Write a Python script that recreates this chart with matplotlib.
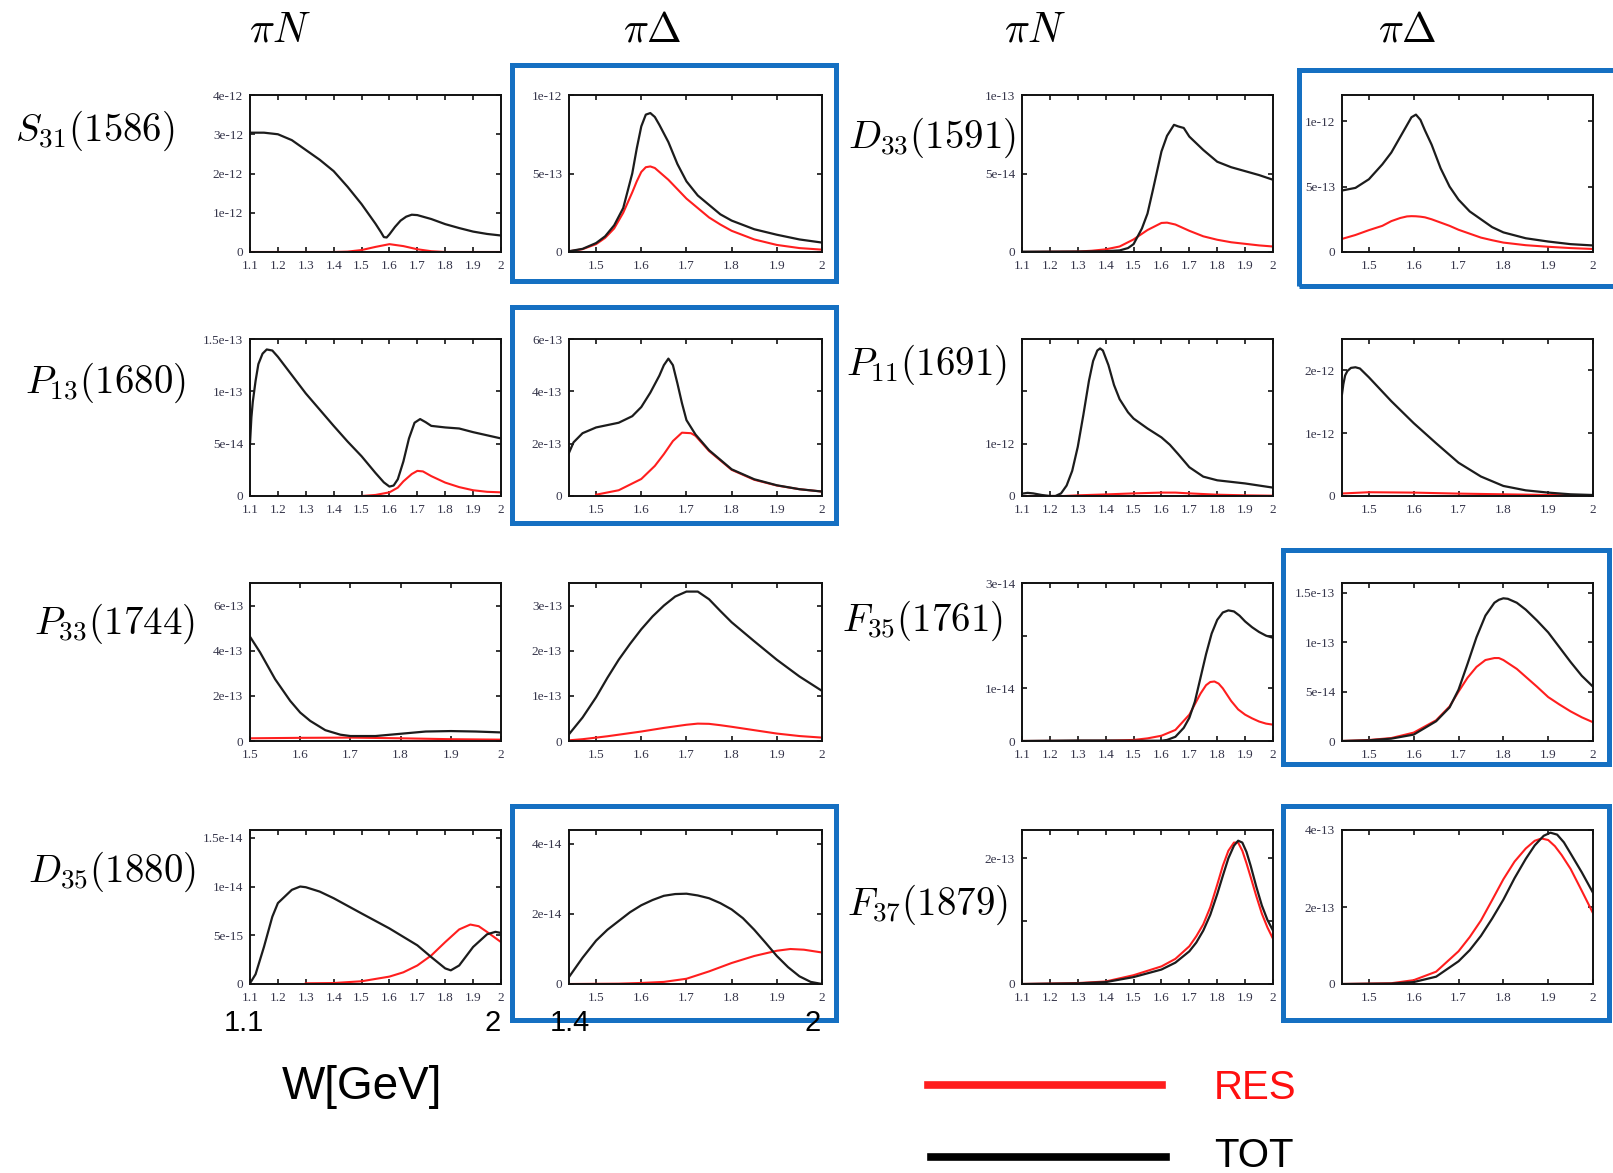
import numpy as np
import matplotlib.pyplot as plt
from matplotlib.patches import Rectangle
from matplotlib.lines import Line2D

plt.rcParams['mathtext.fontset'] = 'cm'

W_PX, H_PX = 1613, 1173

# ---- S31(1586) ----
s31_pin_w = [1.1, 1.15, 1.2, 1.25, 1.3, 1.35, 1.4, 1.45, 1.5, 1.53, 1.55, 1.57, 1.58, 1.59, 1.6, 1.62, 1.64, 1.66, 1.68, 1.7, 1.75, 1.8, 1.85, 1.9, 1.95, 2.0]
s31_pin_tot = [3.04, 3.04, 3.0, 2.85, 2.6, 2.35, 2.06, 1.66, 1.22, 0.92, 0.72, 0.5, 0.38, 0.37, 0.45, 0.64, 0.8, 0.9, 0.95, 0.94, 0.84, 0.71, 0.61, 0.52, 0.46, 0.42]
s31_pin_res_w = [1.1, 1.4, 1.45, 1.5, 1.55, 1.6, 1.65, 1.7, 1.75, 1.8, 2.0]
s31_pin_res = [0, 0, 0.01, 0.05, 0.13, 0.2, 0.15, 0.07, 0.02, 0.0, 0]

s31_pid_w = [1.44, 1.47, 1.5, 1.52, 1.54, 1.56, 1.58, 1.59, 1.6, 1.61, 1.62, 1.63, 1.64, 1.66, 1.68, 1.7, 1.725, 1.75, 1.775, 1.8, 1.85, 1.9, 1.95, 2.0]
s31_pid_tot = [0.005, 0.02, 0.057, 0.1, 0.17, 0.28, 0.5, 0.66, 0.8, 0.875, 0.885, 0.86, 0.81, 0.7, 0.56, 0.45, 0.36, 0.3, 0.24, 0.2, 0.145, 0.11, 0.08, 0.06]
s31_pid_res = [0.004, 0.018, 0.05, 0.09, 0.15, 0.25, 0.38, 0.45, 0.51, 0.54, 0.545, 0.535, 0.51, 0.46, 0.4, 0.34, 0.28, 0.22, 0.175, 0.135, 0.08, 0.045, 0.025, 0.015]

# ---- D33(1591) ----
d33_pin_w = [1.1, 1.3, 1.4, 1.45, 1.48, 1.5, 1.53, 1.55, 1.57, 1.6, 1.62, 1.645, 1.66, 1.68, 1.7, 1.75, 1.8, 1.85, 1.9, 1.95, 2.0]
d33_pin_tot = [0.002, 0.003, 0.005, 0.01, 0.025, 0.05, 0.15, 0.245, 0.4, 0.64, 0.74, 0.81, 0.8, 0.79, 0.735, 0.65, 0.575, 0.54, 0.515, 0.49, 0.46]
d33_pin_res_w = [1.1, 1.3, 1.35, 1.4, 1.45, 1.5, 1.55, 1.6, 1.62, 1.65, 1.7, 1.75, 1.8, 1.85, 1.9, 1.95, 2.0]
d33_pin_res = [0.0, 0.003, 0.008, 0.017, 0.035, 0.08, 0.14, 0.185, 0.187, 0.175, 0.135, 0.1, 0.078, 0.062, 0.052, 0.042, 0.035]

d33_pid_w = [1.44, 1.47, 1.5, 1.53, 1.55, 1.57, 1.585, 1.595, 1.605, 1.615, 1.625, 1.64, 1.66, 1.68, 1.7, 1.725, 1.75, 1.775, 1.8, 1.85, 1.9, 1.95, 2.0]
d33_pid_tot = [0.47, 0.49, 0.556, 0.67, 0.76, 0.88, 0.97, 1.03, 1.05, 1.01, 0.93, 0.82, 0.64, 0.5, 0.4, 0.31, 0.25, 0.19, 0.15, 0.105, 0.08, 0.06, 0.05]
d33_pid_res = [0.1, 0.13, 0.167, 0.2, 0.236, 0.26, 0.272, 0.274, 0.273, 0.27, 0.265, 0.25, 0.225, 0.2, 0.17, 0.14, 0.11, 0.09, 0.072, 0.052, 0.04, 0.03, 0.023]

# ---- P13(1680) ----
p13_pin_w = [1.1, 1.105, 1.11, 1.12, 1.13, 1.145, 1.16, 1.18, 1.2, 1.25, 1.3, 1.35, 1.4, 1.45, 1.5, 1.55, 1.58, 1.6, 1.615, 1.63, 1.65, 1.67, 1.69, 1.71, 1.73, 1.75, 1.8, 1.85, 1.9, 1.95, 2.0]
p13_pin_tot = [0.5, 0.75, 0.9, 1.1, 1.26, 1.36, 1.40, 1.39, 1.33, 1.155, 0.98, 0.825, 0.67, 0.52, 0.38, 0.22, 0.13, 0.09, 0.1, 0.16, 0.33, 0.55, 0.7, 0.735, 0.705, 0.67, 0.655, 0.645, 0.61, 0.58, 0.55]
p13_pin_res_w = [1.5, 1.55, 1.6, 1.63, 1.65, 1.68, 1.7, 1.72, 1.75, 1.8, 1.85, 1.9, 1.95, 2.0]
p13_pin_res = [0.0, 0.01, 0.035, 0.08, 0.14, 0.21, 0.24, 0.235, 0.19, 0.128, 0.085, 0.055, 0.04, 0.035]

p13_pid_w = [1.44, 1.45, 1.47, 1.5, 1.55, 1.58, 1.6, 1.62, 1.64, 1.65, 1.66, 1.67, 1.68, 1.69, 1.7, 1.72, 1.75, 1.8, 1.85, 1.9, 1.95, 2.0]
p13_pid_tot = [1.65, 2.05, 2.4, 2.62, 2.8, 3.05, 3.4, 3.95, 4.6, 5.0, 5.25, 5.0, 4.3, 3.55, 2.9, 2.35, 1.75, 1.02, 0.64, 0.41, 0.26, 0.17]
p13_pid_res_w = [1.5, 1.55, 1.6, 1.63, 1.65, 1.67, 1.69, 1.71, 1.72, 1.75, 1.8, 1.85, 1.9, 1.95, 2.0]
p13_pid_res = [0.05, 0.22, 0.65, 1.15, 1.6, 2.1, 2.42, 2.4, 2.3, 1.72, 1.0, 0.62, 0.4, 0.26, 0.17]

# ---- P11(1691) ----
p11_pin_w = [1.1, 1.12, 1.14, 1.17, 1.2, 1.22, 1.24, 1.26, 1.28, 1.3, 1.32, 1.34, 1.355, 1.37, 1.38, 1.39, 1.41, 1.43, 1.45, 1.48, 1.5, 1.55, 1.6, 1.63, 1.66, 1.7, 1.75, 1.8, 1.85, 1.9, 1.95, 2.0]
p11_pin_tot = [0.045, 0.06, 0.05, 0.02, 0.0, 0.0, 0.05, 0.2, 0.48, 0.94, 1.55, 2.2, 2.58, 2.78, 2.82, 2.78, 2.5, 2.12, 1.85, 1.6, 1.48, 1.29, 1.12, 0.98, 0.8, 0.55, 0.37, 0.3, 0.27, 0.24, 0.2, 0.16]
p11_pin_res_w = [1.1, 1.25, 1.3, 1.4, 1.5, 1.6, 1.65, 1.7, 1.8, 1.9, 2.0]
p11_pin_res = [0, 0.0, 0.013, 0.03, 0.05, 0.065, 0.065, 0.05, 0.025, 0.013, 0.006]

p11_pid_w = [1.44, 1.443, 1.447, 1.452, 1.46, 1.47, 1.48, 1.5, 1.55, 1.6, 1.65, 1.7, 1.75, 1.8, 1.85, 1.9, 1.95, 2.0]
p11_pid_tot = [1.62, 1.78, 1.92, 1.99, 2.04, 2.05, 2.03, 1.89, 1.51, 1.16, 0.84, 0.53, 0.31, 0.16, 0.09, 0.054, 0.027, 0.016]
p11_pid_res_w = [1.44, 1.5, 1.6, 1.7, 1.8, 1.9, 2.0]
p11_pid_res = [0.04, 0.06, 0.054, 0.038, 0.027, 0.016, 0.01]

# ---- P33(1744) ----
p33_pin_w = [1.5, 1.52, 1.55, 1.58, 1.6, 1.62, 1.65, 1.68, 1.7, 1.75, 1.8, 1.85, 1.9, 1.95, 2.0]
p33_pin_tot = [4.62, 3.93, 2.74, 1.78, 1.26, 0.89, 0.48, 0.28, 0.22, 0.22, 0.32, 0.42, 0.44, 0.42, 0.38]
p33_pin_res_w = [1.5, 1.6, 1.7, 1.8, 1.9, 2.0]
p33_pin_res = [0.12, 0.14, 0.15, 0.12, 0.08, 0.06]

p33_pid_w = [1.44, 1.47, 1.5, 1.525, 1.55, 1.575, 1.6, 1.625, 1.65, 1.675, 1.7, 1.725, 1.75, 1.775, 1.8, 1.85, 1.9, 1.95, 2.0]
p33_pid_tot = [0.15, 0.52, 0.97, 1.4, 1.8, 2.15, 2.475, 2.76, 3.0, 3.2, 3.31, 3.31, 3.14, 2.88, 2.63, 2.21, 1.8, 1.43, 1.11]
p33_pid_res = [0.015, 0.04, 0.075, 0.105, 0.14, 0.175, 0.21, 0.25, 0.29, 0.325, 0.36, 0.385, 0.38, 0.35, 0.315, 0.24, 0.165, 0.11, 0.075]

# ---- F35(1761) ----
f35_pin_w = [1.1, 1.3, 1.4, 1.5, 1.6, 1.62, 1.65, 1.68, 1.7, 1.72, 1.74, 1.76, 1.78, 1.8, 1.82, 1.84, 1.86, 1.88, 1.9, 1.925, 1.95, 1.975, 2.0]
f35_pin_tot = [0.0, 0.01, 0.01, 0.005, 0.005, 0.02, 0.08, 0.25, 0.44, 0.75, 1.2, 1.65, 2.04, 2.3, 2.44, 2.48, 2.46, 2.38, 2.27, 2.16, 2.07, 2.0, 1.96]
f35_pin_res_w = [1.1, 1.4, 1.5, 1.55, 1.6, 1.65, 1.7, 1.72, 1.74, 1.76, 1.775, 1.79, 1.805, 1.82, 1.85, 1.875, 1.9, 1.925, 1.95, 1.975, 2.0]
f35_pin_res = [0, 0.005, 0.02, 0.05, 0.1, 0.21, 0.5, 0.7, 0.9, 1.06, 1.12, 1.13, 1.09, 1.0, 0.76, 0.6, 0.5, 0.43, 0.37, 0.33, 0.31]

f35_pid_w = [1.44, 1.5, 1.55, 1.6, 1.65, 1.68, 1.7, 1.72, 1.74, 1.76, 1.78, 1.79, 1.8, 1.81, 1.83, 1.85, 1.875, 1.9, 1.925, 1.95, 1.975, 2.0]
f35_pid_tot = [0.0, 0.007, 0.024, 0.065, 0.2, 0.34, 0.52, 0.78, 1.05, 1.27, 1.4, 1.43, 1.445, 1.44, 1.4, 1.33, 1.22, 1.1, 0.95, 0.8, 0.66, 0.55]
f35_pid_res = [0.0, 0.01, 0.03, 0.085, 0.21, 0.35, 0.5, 0.64, 0.75, 0.82, 0.84, 0.84, 0.82, 0.79, 0.73, 0.65, 0.55, 0.445, 0.37, 0.3, 0.24, 0.19]

# ---- D35(1880) ----
d35_pin_w = [1.1, 1.12, 1.15, 1.18, 1.2, 1.25, 1.28, 1.3, 1.35, 1.4, 1.5, 1.6, 1.7, 1.75, 1.8, 1.82, 1.85, 1.9, 1.95, 1.98, 2.0]
d35_pin_tot = [0.007, 0.1, 0.38, 0.69, 0.83, 0.966, 1.0, 0.993, 0.948, 0.88, 0.724, 0.57, 0.397, 0.276, 0.16, 0.14, 0.19, 0.38, 0.51, 0.535, 0.524]
d35_pin_res_w = [1.3, 1.4, 1.5, 1.6, 1.65, 1.7, 1.75, 1.8, 1.85, 1.89, 1.92, 1.95, 2.0]
d35_pin_res = [0.007, 0.01, 0.028, 0.076, 0.12, 0.19, 0.293, 0.43, 0.56, 0.61, 0.593, 0.534, 0.43]

d35_pid_w = [1.44, 1.47, 1.5, 1.525, 1.55, 1.575, 1.6, 1.625, 1.65, 1.675, 1.7, 1.725, 1.75, 1.775, 1.8, 1.825, 1.85, 1.875, 1.9, 1.925, 1.95, 1.975, 2.0]
d35_pid_tot = [0.2, 0.75, 1.24, 1.55, 1.8, 2.05, 2.25, 2.4, 2.52, 2.57, 2.58, 2.53, 2.45, 2.31, 2.13, 1.88, 1.55, 1.18, 0.8, 0.48, 0.22, 0.06, 0.0]
d35_pid_res_w = [1.44, 1.55, 1.6, 1.65, 1.7, 1.75, 1.8, 1.85, 1.9, 1.93, 1.96, 2.0]
d35_pid_res = [0.0, 0.01, 0.03, 0.06, 0.15, 0.36, 0.6, 0.8, 0.95, 1.0, 0.98, 0.9]

# ---- F37(1879) ----
f37_pin_w = [1.1, 1.3, 1.4, 1.5, 1.6, 1.65, 1.7, 1.725, 1.75, 1.775, 1.8, 1.82, 1.84, 1.86, 1.875, 1.89, 1.905, 1.92, 1.94, 1.96, 1.98, 2.0]
f37_pin_tot = [0.0, 0.01, 0.03, 0.11, 0.23, 0.34, 0.52, 0.66, 0.85, 1.1, 1.43, 1.72, 2.0, 2.2, 2.28, 2.25, 2.1, 1.88, 1.55, 1.25, 1.02, 0.85]
f37_pin_res = [0.0, 0.015, 0.04, 0.14, 0.28, 0.4, 0.6, 0.76, 0.95, 1.22, 1.58, 1.88, 2.12, 2.25, 2.25, 2.12, 1.92, 1.7, 1.4, 1.12, 0.9, 0.72]

f37_pid_w = [1.44, 1.55, 1.6, 1.65, 1.7, 1.725, 1.75, 1.775, 1.8, 1.825, 1.85, 1.87, 1.89, 1.905, 1.92, 1.935, 1.95, 1.975, 2.0]
f37_pid_tot = [0.0, 0.01, 0.05, 0.19, 0.59, 0.88, 1.25, 1.7, 2.19, 2.75, 3.25, 3.6, 3.85, 3.93, 3.88, 3.68, 3.39, 2.9, 2.37]
f37_pid_res_w = [1.44, 1.55, 1.6, 1.65, 1.7, 1.725, 1.75, 1.775, 1.8, 1.825, 1.85, 1.87, 1.885, 1.9, 1.915, 1.93, 1.95, 1.975, 2.0]
f37_pid_res = [0.0, 0.02, 0.1, 0.32, 0.85, 1.22, 1.65, 2.18, 2.72, 3.18, 3.52, 3.72, 3.78, 3.74, 3.58, 3.35, 2.99, 2.42, 1.84]

# row labels, column headers
resonances = [r'$S_{31}(1586)$', r'$P_{13}(1680)$', r'$P_{33}(1744)$', r'$D_{35}(1880)$',
              r'$D_{33}(1591)$', r'$P_{11}(1691)$', r'$F_{35}(1761)$', r'$F_{37}(1879)$']
channels = [r'$\pi N$', r'$\pi\Delta$', r'$\pi N$', r'$\pi\Delta$']

xt_pin = [1.1, 1.2, 1.3, 1.4, 1.5, 1.6, 1.7, 1.8, 1.9, 2.0]
xt_pid = [1.5, 1.6, 1.7, 1.8, 1.9, 2.0]

# panel pixel boxes
col_px = [(250, 501), (569, 822), (1022, 1273), (1342, 1593)]
row_px = [(95, 252), (339, 496), (583, 741), (830, 984)]

BLACK = '#1c1c1c'
RED = '#ff1e1e'
BLUE = '#1570c2'
TICKC = '#35354a'

# row, col, xmin, unit, ymax, yticks, ylabels, tot_w, tot, res_w, res
panels = [
    (0, 0, 1.1, 1e-12, 4.0, [0, 1, 2, 3, 4], ['0', '1e-12', '2e-12', '3e-12', '4e-12'],
     s31_pin_w, s31_pin_tot, s31_pin_res_w, s31_pin_res),
    (0, 1, 1.44, 1e-12, 1.0, [0, 0.5, 1], ['0', '5e-13', '1e-12'],
     s31_pid_w, s31_pid_tot, s31_pid_w, s31_pid_res),
    (0, 2, 1.1, 1e-13, 1.0, [0, 0.5, 1], ['0', '5e-14', '1e-13'],
     d33_pin_w, d33_pin_tot, d33_pin_res_w, d33_pin_res),
    (0, 3, 1.44, 1e-12, 1.2, [0, 0.5, 1], ['0', '5e-13', '1e-12'],
     d33_pid_w, d33_pid_tot, d33_pid_w, d33_pid_res),
    (1, 0, 1.1, 1e-13, 1.5, [0, 0.5, 1, 1.5], ['0', '5e-14', '1e-13', '1.5e-13'],
     p13_pin_w, p13_pin_tot, p13_pin_res_w, p13_pin_res),
    (1, 1, 1.44, 1e-13, 6.0, [0, 2, 4, 6], ['0', '2e-13', '4e-13', '6e-13'],
     p13_pid_w, p13_pid_tot, p13_pid_res_w, p13_pid_res),
    (1, 2, 1.1, 1e-12, 3.0, [0, 1, 2], ['0', '1e-12', ''],
     p11_pin_w, p11_pin_tot, p11_pin_res_w, p11_pin_res),
    (1, 3, 1.44, 1e-12, 2.5, [0, 1, 2], ['0', '1e-12', '2e-12'],
     p11_pid_w, p11_pid_tot, p11_pid_res_w, p11_pid_res),
    (2, 0, 1.5, 1e-13, 7.0, [0, 2, 4, 6], ['0', '2e-13', '4e-13', '6e-13'],
     p33_pin_w, p33_pin_tot, p33_pin_res_w, p33_pin_res),
    (2, 1, 1.44, 1e-13, 3.5, [0, 1, 2, 3], ['0', '1e-13', '2e-13', '3e-13'],
     p33_pid_w, p33_pid_tot, p33_pid_w, p33_pid_res),
    (2, 2, 1.1, 1e-14, 3.0, [0, 1, 2, 3], ['0', '1e-14', '', '3e-14'],
     f35_pin_w, f35_pin_tot, f35_pin_res_w, f35_pin_res),
    (2, 3, 1.44, 1e-13, 1.6, [0, 0.5, 1, 1.5], ['0', '5e-14', '1e-13', '1.5e-13'],
     f35_pid_w, f35_pid_tot, f35_pid_w, f35_pid_res),
    (3, 0, 1.1, 1e-14, 1.58, [0, 0.5, 1, 1.5], ['0', '5e-15', '1e-14', '1.5e-14'],
     d35_pin_w, d35_pin_tot, d35_pin_res_w, d35_pin_res),
    (3, 1, 1.44, 1e-14, 4.4, [0, 2, 4], ['0', '2e-14', '4e-14'],
     d35_pid_w, d35_pid_tot, d35_pid_res_w, d35_pid_res),
    (3, 2, 1.1, 1e-13, 2.45, [0, 1, 2], ['0', '', '2e-13'],
     f37_pin_w, f37_pin_tot, f37_pin_w, f37_pin_res),
    (3, 3, 1.44, 1e-13, 4.0, [0, 2, 4], ['0', '2e-13', '4e-13'],
     f37_pid_w, f37_pid_tot, f37_pid_res_w, f37_pid_res),
]

# framed panels
boxes = [(512, 65, 836, 281), (1299, 70, 1630, 286), (512, 307, 836, 523),
         (1283, 550, 1609, 764), (512, 806, 836, 1020), (1283, 806, 1609, 1020)]

fig = plt.figure(figsize=(W_PX / 100, H_PX / 100), dpi=100)


def fx(x):
    return x / W_PX


def fy(y):
    return 1 - y / H_PX


for (r, c, xmin, unit, ymax, yt, ylab, tw, tv, rw, rv) in panels:
    l, rr = col_px[c]
    t, b = row_px[r]
    ax = fig.add_axes([fx(l), fy(b), (rr - l) / W_PX, (b - t) / H_PX])
    ax.plot(rw, np.array(rv) * unit, color=RED, lw=1.5, solid_joinstyle='round')
    ax.plot(tw, np.array(tv) * unit, color=BLACK, lw=1.6, solid_joinstyle='round')
    ax.set_xlim(xmin, 2.0)
    ax.set_ylim(0, ymax * unit)
    xt = [v for v in xt_pin if v >= xmin - 1e-9] if c in (0, 2) else xt_pid
    ax.set_xticks(xt)
    ax.set_xticklabels([f'{v:g}' for v in xt])
    ax.set_yticks([v * unit for v in yt])
    ax.set_yticklabels(ylab)
    ax.tick_params(direction='in', top=True, right=True, length=3.5, width=1.1,
                   labelsize=9.5, labelcolor=TICKC)
    ax.tick_params(axis='x', pad=6)
    ax.tick_params(axis='y', pad=5)
    for lab in ax.get_xticklabels() + ax.get_yticklabels():
        lab.set_fontfamily('Liberation Serif')
    for sp in ax.spines.values():
        sp.set_linewidth(1.4)
        sp.set_color('#111111')

for (x0, y0, x1, y1) in boxes:
    fig.add_artist(Rectangle((fx(x0), fy(y1)), (x1 - x0) / W_PX, (y1 - y0) / H_PX,
                             transform=fig.transFigure, fill=False, ec=BLUE, lw=3.6))

# headers and resonance names
for xc, txt in zip([280, 652, 1035, 1407], channels):
    fig.text(fx(xc), fy(29), txt, fontsize=30, ha='center', va='center')

label_pos = [(95, 131), (105, 383), (114, 624), (112, 872),
             (932, 138), (926, 365), (922, 621), (927, 905)]
for (xc, yc), txt in zip(label_pos, resonances):
    fig.text(fx(xc), fy(yc), txt, fontsize=28, ha='center', va='center')

# axis range notes and W label
for xc, txt in [(244, '1.1'), (493, '2'), (570, '1.4'), (813, '2')]:
    fig.text(fx(xc), fy(1023), txt, fontsize=21, ha='center', va='center',
             family='Liberation Sans')
fig.text(fx(362), fy(1087), 'W[GeV]', fontsize=33, ha='center', va='center',
         family='Liberation Sans')

# legend
fig.add_artist(Line2D([fx(928), fx(1162)], [fy(1085), fy(1085)], color=RED, lw=5.5,
                      transform=fig.transFigure))
fig.add_artist(Line2D([fx(931), fx(1166)], [fy(1157), fy(1157)], color='black', lw=5.5,
                      transform=fig.transFigure))
fig.text(fx(1214), fy(1088), 'RES', color='#ff1010', fontsize=29, ha='left', va='center',
         family='Liberation Sans')
fig.text(fx(1214), fy(1156), 'TOT', color='black', fontsize=29, ha='left', va='center',
         family='Liberation Sans')

fig.savefig('out.png', dpi=100)
